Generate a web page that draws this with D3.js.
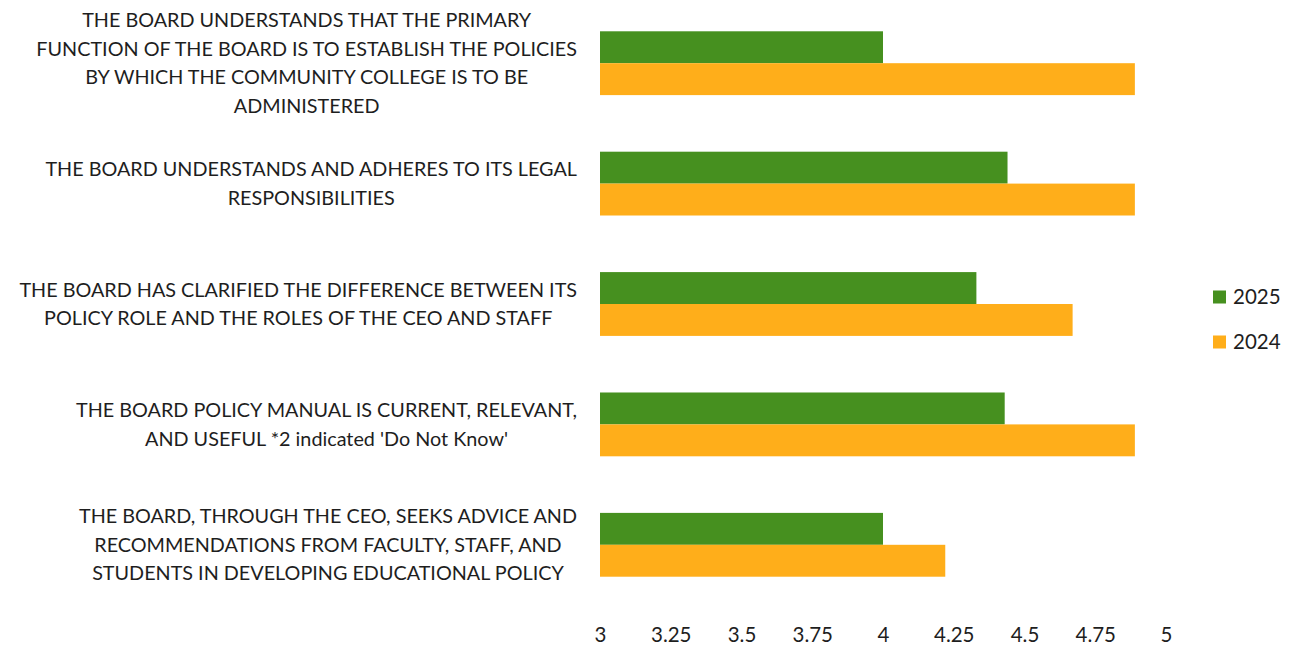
<!DOCTYPE html>
<html>
<head>
<meta charset="utf-8">
<script src="https://cdn.jsdelivr.net/npm/d3@7"></script>
<style>
  html, body { margin: 0; padding: 0; background: #fff; }
  svg { display: block; }
  text { font-family: Lato, "Open Sans", sans-serif; fill: #1e1e1e; }
</style>
</head>
<body>
<svg id="chart" width="1292" height="648"></svg>
<script>
// Survey statements (each entry holds the wrapped lines of one label)
const statements = [
  ["THE BOARD UNDERSTANDS THAT THE PRIMARY",
   "FUNCTION OF THE BOARD IS TO ESTABLISH THE POLICIES",
   "BY WHICH THE COMMUNITY COLLEGE IS TO BE",
   "ADMINISTERED"],
  ["THE BOARD UNDERSTANDS AND ADHERES TO ITS LEGAL",
   "RESPONSIBILITIES"],
  ["THE BOARD HAS CLARIFIED THE DIFFERENCE BETWEEN ITS",
   "POLICY ROLE AND THE ROLES OF THE CEO AND STAFF"],
  ["THE BOARD POLICY MANUAL IS CURRENT, RELEVANT,",
   "AND USEFUL *2 indicated 'Do Not Know'"],
  ["THE BOARD, THROUGH THE CEO, SEEKS ADVICE AND",
   "RECOMMENDATIONS FROM FACULTY, STAFF, AND",
   "STUDENTS IN DEVELOPING EDUCATIONAL POLICY"]
];

const seriesNames = ["2025", "2024"];
const values2025 = [4.00, 4.44, 4.33, 4.43, 4.00];
const values2024 = [4.89, 4.89, 4.67, 4.89, 4.22];
const tickValues = [3, 3.25, 3.5, 3.75, 4, 4.25, 4.5, 4.75, 5];
const seriesColors = ["#46901f", "#ffae1a"];

const svg = d3.select("#chart");
const ids = statements.map((_, i) => i);
const seriesValues = [values2025, values2024];

const x = d3.scaleLinear().domain([3, 5]).range([600, 1166]);
const y = d3.scaleBand().domain(ids).range([3, 605])
  .paddingInner(0.47).paddingOuter(0.235);
const ySub = d3.scaleBand().domain(seriesNames).range([0, y.bandwidth()]);

// Bars: one group per statement, one bar per year
const groups = svg.append("g").selectAll("g")
  .data(ids).join("g")
  .attr("transform", i => `translate(0,${y(i)})`);

groups.selectAll("rect")
  .data(i => seriesNames.map((s, k) => ({ s, k, v: seriesValues[k][i] })))
  .join("rect")
  .attr("x", x(3))
  .attr("y", d => ySub(d.s))
  .attr("width", d => x(d.v) - x(3))
  .attr("height", ySub.bandwidth())
  .attr("fill", d => seriesColors[d.k]);

// Value axis along the bottom, labels only
const axis = svg.append("g")
  .attr("transform", "translate(0,627)")
  .call(d3.axisBottom(x).tickValues(tickValues).tickSize(0).tickPadding(0)
    .tickFormat(d => String(d)));
axis.select(".domain").remove();
axis.selectAll("text")
  .attr("font-size", 20.5)
  .attr("dy", "0.71em")
  .style("font-family", "Lato, sans-serif")
  .attr("fill", "#1e1e1e");

// Category labels: each wrapped block is centred on itself and right-aligned to the axis
const labelRight = 577;
const lineH = 28.5;
const labelG = svg.append("g");
statements.forEach((lines, i) => {
  const cy = y(i) + y.bandwidth() / 2;
  const block = labelG.append("g");
  const texts = block.selectAll("text").data(lines).join("text")
    .attr("font-size", 19.8)
    .attr("text-anchor", "middle")
    .attr("dy", "0.35em")
    .attr("y", (d, j) => cy + (j - (lines.length - 1) / 2) * lineH)
    .text(d => d);
  const maxW = d3.max(texts.nodes(), n => n.getComputedTextLength());
  texts.attr("x", labelRight - maxW / 2);
});

// Legend
const legend = svg.append("g").selectAll("g")
  .data(seriesNames).join("g")
  .attr("transform", (d, k) => `translate(1213,${297 + k * 45})`);
legend.append("rect")
  .attr("x", 0).attr("y", -6.5).attr("width", 13).attr("height", 13)
  .attr("fill", (d, k) => seriesColors[k]);
legend.append("text")
  .attr("x", 20).attr("dy", "0.35em")
  .attr("font-size", 20.5)
  .text(d => d);
</script>
</body>
</html>
